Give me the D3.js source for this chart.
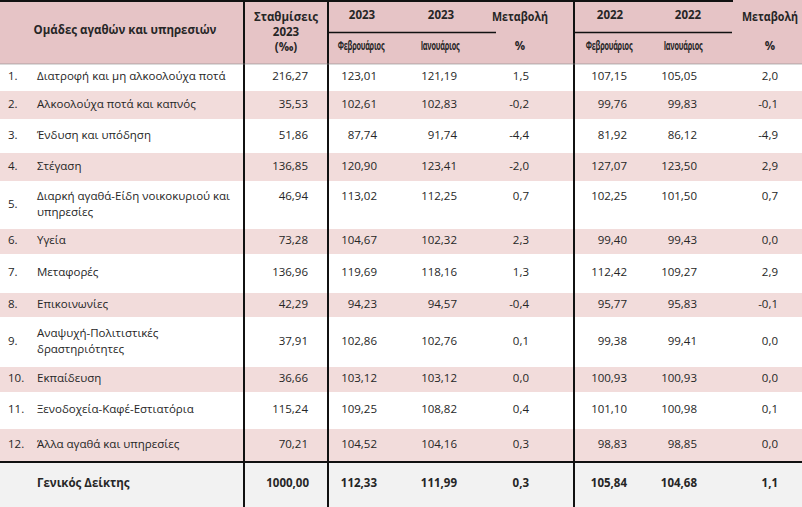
<!DOCTYPE html>
<html>
<head>
<meta charset="utf-8">
<script src="https://cdn.jsdelivr.net/npm/d3@7"></script>
<style>
  html, body { margin: 0; padding: 0; background: #fff; }
  svg { display: block; }
  text { font-family: "Open Sans", "Noto Sans", sans-serif; fill: #262626; }
</style>
</head>
<body>
<svg id="chart" width="802" height="507"></svg>
<script>
// ---------- DATA ----------
const groupNumbers = ["1.", "2.", "3.", "4.", "5.", "6.", "7.", "8.", "9.", "10.", "11.", "12."];
const groupLabels = [
  ["Διατροφή και μη αλκοολούχα ποτά"],
  ["Αλκοολούχα ποτά και καπνός"],
  ["Ένδυση και υπόδηση"],
  ["Στέγαση"],
  ["Διαρκή αγαθά-Είδη νοικοκυριού και", "υπηρεσίες"],
  ["Υγεία"],
  ["Μεταφορές"],
  ["Επικοινωνίες"],
  ["Αναψυχή-Πολιτιστικές", "δραστηριότητες"],
  ["Εκπαίδευση"],
  ["Ξενοδοχεία-Καφέ-Εστιατόρια"],
  ["Άλλα αγαθά και υπηρεσίες"]
];
const weights2023 = ["216,27", "35,53", "51,86", "136,85", "46,94", "73,28", "136,96", "42,29", "37,91", "36,66", "115,24", "70,21"];
const feb2023 = ["123,01", "102,61", "87,74", "120,90", "113,02", "104,67", "119,69", "94,23", "102,86", "103,12", "109,25", "104,52"];
const jan2023 = ["121,19", "102,83", "91,74", "123,41", "112,25", "102,32", "118,16", "94,57", "102,76", "103,12", "108,82", "104,16"];
const change2023 = ["1,5", "-0,2", "-4,4", "-2,0", "0,7", "2,3", "1,3", "-0,4", "0,1", "0,0", "0,4", "0,3"];
const feb2022 = ["107,15", "99,76", "81,92", "127,07", "102,25", "99,40", "112,42", "95,77", "99,38", "100,93", "101,10", "98,83"];
const jan2022 = ["105,05", "99,83", "86,12", "123,50", "101,50", "99,43", "109,27", "95,83", "99,41", "100,93", "100,98", "98,85"];
const change2022 = ["2,0", "-0,1", "-4,9", "2,9", "0,7", "0,0", "2,9", "-0,1", "0,0", "0,0", "0,1", "0,0"];
const totalLabel = "Γενικός Δείκτης";
const totalValues = ["1000,00", "112,33", "111,99", "0,3", "105,84", "104,68", "1,1"];

const headerGroup = "Ομάδες αγαθών και υπηρεσιών";
const headerWeights = ["Σταθμίσεις", "2023", "(‰)"];
const headerYears = ["2023", "2023", "2022", "2022"];
const headerMonths = ["Φεβρουάριος", "Ιανουάριος", "Φεβρουάριος", "Ιανουάριος"];
const headerChange = ["Μεταβολή", "%"];

// ---------- LAYOUT ----------
const W = 802, H = 507;
const headerH = 64;
const rowHeights = [26, 30, 32, 30, 46, 27, 37, 26, 48, 27, 35, 34];
const totalH = H - headerH - d3.sum(rowHeights);

const svg = d3.select("#chart");

const rowTops = [];
let acc = headerH;
rowHeights.forEach(h => { rowTops.push(acc); acc += h; });
const totalTop = acc;

const valueCols = ["w", "f23", "j23", "c23", "f22", "j22", "c22"];
const colRight = d3.scaleOrdinal().domain(valueCols).range([308, 377, 457, 529, 627, 697, 778]);

const pinkRow = "#f2dcdb";
const headerFill = "#e6c4c6";
const totalFill = "#f2f2f2";

svg.append("rect").attr("x", 0).attr("y", 0).attr("width", W).attr("height", headerH).attr("fill", headerFill);

svg.selectAll("rect.row").data(rowHeights).join("rect")
  .attr("class", "row")
  .attr("x", 0)
  .attr("y", (d, i) => rowTops[i] + 1)
  .attr("width", W)
  .attr("height", d => d - 2)
  .attr("fill", (d, i) => i % 2 === 1 ? pinkRow : "#ffffff");

svg.append("rect").attr("x", 0).attr("y", totalTop).attr("width", W).attr("height", totalH).attr("fill", totalFill);

// ---------- HEADER TEXT ----------
const hdr = svg.append("g");
hdr.append("text").attr("x", 125).attr("y", 34).attr("text-anchor", "middle")
  .attr("font-size", 11.5).attr("font-weight", 700).text(headerGroup);

hdr.selectAll("text.hw").data(headerWeights).join("text")
  .attr("class", "hw")
  .attr("x", 286).attr("y", (d, i) => 21 + i * 15)
  .attr("text-anchor", "middle").attr("font-size", 11.5).attr("font-weight", 700).text(d => d);

const yearX = [362, 441, 610, 688];
hdr.selectAll("text.yr").data(headerYears).join("text")
  .attr("class", "yr")
  .attr("x", (d, i) => yearX[i]).attr("y", 19)
  .attr("text-anchor", "middle").attr("font-size", 11.5).attr("font-weight", 700).text(d => d);

const monthX = [361, 440, 609, 683];
hdr.selectAll("text.mo").data(headerMonths).join("text")
  .attr("class", "mo")
  .attr("transform", (d, i) => `translate(${monthX[i]},50) scale(0.56,1)`)
  .attr("text-anchor", "middle").attr("font-size", 13).attr("font-weight", 700)
  .attr("letter-spacing", -0.4)
  .text(d => d);

[520, 770].forEach(cx => {
  hdr.selectAll(null).data(headerChange).join("text")
    .attr("transform", (d, i) => `translate(${cx},${i === 0 ? 21 : 50}) scale(${i === 0 ? 0.93 : 1},1)`)
    .attr("text-anchor", "middle").attr("font-size", 11.5).attr("font-weight", 700)
    .text(d => d);
});

// ---------- BODY TEXT ----------
const rows = svg.selectAll("g.r").data(groupLabels).join("g").attr("class", "r")
  .attr("transform", (d, i) => `translate(0,${rowTops[i]})`);

function lineYs(lines, h) {
  if (lines.length === 1) return [h / 2 - 1.5];
  return [h / 2 - 9, h / 2 + 6.5];
}

rows.append("text")
  .attr("x", 8)
  .attr("y", (d, i) => rowHeights[i] / 2 - 1.5)
  .attr("dy", "0.35em").attr("font-size", 11.5)
  .text((d, i) => groupNumbers[i]);

rows.each(function(lines, i) {
  d3.select(this).selectAll("text.lbl").data(lines).join("text")
    .attr("class", "lbl")
    .attr("x", 37)
    .attr("y", (d, j) => lineYs(lines, rowHeights[i])[j])
    .attr("dy", "0.35em").attr("font-size", 11.5)
    .text(d => d);
});

const series = [weights2023, feb2023, jan2023, change2023, feb2022, jan2022, change2022];
rows.each(function(lines, i) {
  const vy = lines.length > 1 && i === 4 ? lineYs(lines, rowHeights[i])[0] : rowHeights[i] / 2 - 1.5;
  d3.select(this).selectAll("text.v").data(series.map(s => s[i])).join("text")
    .attr("class", "v")
    .attr("x", (d, k) => colRight(valueCols[k]))
    .attr("y", vy)
    .attr("dy", "0.35em").attr("text-anchor", "end").attr("font-size", 11.5)
    .text(d => d);
});

const tot = svg.append("g").attr("transform", `translate(0,${totalTop})`);
tot.append("text").attr("x", 37).attr("y", totalH / 2 - 1.5).attr("dy", "0.35em")
  .attr("font-size", 11.5).attr("font-weight", 700).text(totalLabel);
tot.selectAll("text.tv").data(totalValues).join("text")
  .attr("class", "tv")
  .attr("x", (d, k) => colRight(valueCols[k]) + (k === 0 ? 1 : 0))
  .attr("y", totalH / 2 - 1.5).attr("dy", "0.35em")
  .attr("text-anchor", "end").attr("font-size", 11.5).attr("font-weight", 700)
  .text(d => d);

// ---------- RULES ----------
const line = (x1, y1, x2, y2, w) => svg.append("line")
  .attr("x1", x1).attr("y1", y1).attr("x2", x2).attr("y2", y2)
  .attr("stroke", "#111").attr("stroke-width", w);

line(0, 1, 733, 1, 2);
line(244, 0, 244, H, 2);
line(328, 0, 328, H, 2);
line(574, 0, 574, H, 2);
line(328, 32.5, 496, 32.5, 1.5);
line(574, 32.5, 732, 32.5, 1.5);
line(0, headerH, W, headerH, 0.6).attr("stroke", "#888");
line(0, totalTop, W, totalTop, 2);
</script>
</body>
</html>
